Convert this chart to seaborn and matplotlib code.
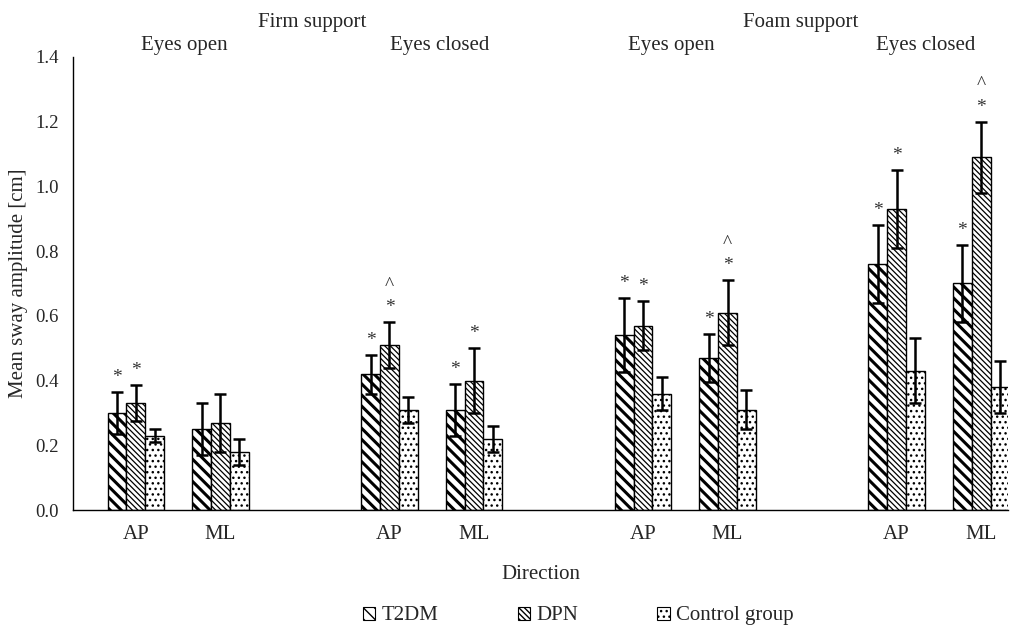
import matplotlib
matplotlib.use("Agg")
import matplotlib.pyplot as plt
import matplotlib.transforms as mtrans
from matplotlib.patches import Patch
import seaborn as sns
import pandas as pd
import numpy as np

# category slots (gaps between test conditions)
directions = ["AP", "ML", "AP", "ML", "AP", "ML", "AP", "ML"]
slots = [0, 1, 3, 4, 6, 7, 9, 10]
groups = ["T2DM", "DPN", "Control group"]

t2dm = [0.30, 0.25, 0.42, 0.31, 0.54, 0.47, 0.76, 0.70]
t2dm_sd = [0.065, 0.08, 0.06, 0.08, 0.115, 0.075, 0.12, 0.12]
dpn = [0.33, 0.27, 0.51, 0.40, 0.57, 0.61, 0.93, 1.09]
dpn_sd = [0.055, 0.09, 0.07, 0.10, 0.075, 0.10, 0.12, 0.11]
ctrl = [0.23, 0.18, 0.31, 0.22, 0.36, 0.31, 0.43, 0.38]
ctrl_sd = [0.02, 0.04, 0.04, 0.04, 0.05, 0.06, 0.10, 0.08]

# significance marks: * vs control, ^ vs T2DM
t2dm_star = [1, 0, 1, 1, 1, 1, 1, 1]
dpn_star = [1, 0, 1, 1, 1, 1, 1, 1]
dpn_caret = [0, 0, 1, 0, 0, 1, 0, 1]

conditions = ["Eyes open", "Eyes closed", "Eyes open", "Eyes closed"]
condition_x = [0.57, 3.59, 6.33, 9.35]
supports = ["Firm support", "Foam support"]
support_x = [2.09, 7.86]

df = pd.DataFrame({
    "slot": slots * 3,
    "Direction": directions * 3,
    "Group": np.repeat(groups, len(slots)),
    "amp": t2dm + dpn + ctrl,
})
sds = [t2dm_sd, dpn_sd, ctrl_sd]

sns.set_style("white")
plt.rcParams["font.family"] = ["Liberation Serif", "DejaVu Serif"]
plt.rcParams["font.size"] = 15

fig = plt.figure(figsize=(10.11, 6.26), dpi=100)
ax = fig.add_axes([0.0722, 0.1853, 0.925, 0.7237])

sns.barplot(data=df, x="slot", y="amp", hue="Group", hue_order=groups,
            native_scale=True, palette=["white"] * 3, width=0.67, gap=0,
            edgecolor="black", linewidth=1, errorbar=None, legend=False, ax=ax)

styles = [("\\" * 3, 2.2), ("\\" * 6, 0.9), ("...", 1.0)]
centers = []
for cont, (hatch, hlw) in zip(ax.containers, styles):
    xs = []
    for bar in cont:
        bar.set_hatch(hatch)
        if hasattr(bar, "set_hatch_linewidth"):
            bar.set_hatch_linewidth(hlw)
        xs.append(bar.get_x() + bar.get_width() / 2)
    centers.append(xs)

for xs, vals, sd in zip(centers, [t2dm, dpn, ctrl], sds):
    ax.errorbar(xs, vals, yerr=sd, fmt="none", ecolor="black",
                elinewidth=1.8, capsize=4.5, capthick=1.8, zorder=5)

star_kw = dict(ha="center", va="center", fontsize=14, color="#333333")
for i in range(len(slots)):
    if t2dm_star[i]:
        ax.text(centers[0][i], t2dm[i] + t2dm_sd[i] + 0.045, "*", **star_kw)
    if dpn_star[i]:
        top = dpn[i] + dpn_sd[i] + 0.045
        ax.text(centers[1][i], top, "*", **star_kw)
        if dpn_caret[i]:
            ax.text(centers[1][i], top + 0.07, "^", **star_kw)

ax.set_xlim(-0.744, 10.32)
ax.set_ylim(0, 1.4)
ax.set_yticks(np.arange(0, 1.41, 0.2))
ax.set_yticklabels([f"{v:.1f}" for v in np.arange(0, 1.41, 0.2)], fontsize=13.5)
ax.set_xticks(slots)
ax.set_xticklabels(directions, fontsize=15)
ax.tick_params(axis="x", length=0, pad=11)
ax.tick_params(axis="y", length=4, width=1, direction="out", color="black", pad=6)
ax.set_xlabel("")
ax.set_ylabel("")
sns.despine(ax=ax)
for s in ["left", "bottom"]:
    ax.spines[s].set_color("black")
    ax.spines[s].set_linewidth(1)

tr = mtrans.blended_transform_factory(ax.transData, fig.transFigure)
for lab, x in zip(conditions, condition_x):
    ax.text(x, 0.928, lab, transform=tr, ha="center", va="center")
for lab, x in zip(supports, support_x):
    ax.text(x, 0.964, lab, transform=tr, ha="center", va="center")

fig.text(0.018, 0.548, "Mean sway amplitude [cm]", rotation=90,
         ha="center", va="center")
fig.text(0.535, 0.083, "Direction", ha="center", va="center")

handles = []
for g, (hatch, hlw) in zip(groups, styles):
    p = Patch(facecolor="white", edgecolor="black", hatch=hatch, linewidth=0.8, label=g)
    if hasattr(p, "set_hatch_linewidth"):
        p.set_hatch_linewidth(hlw)
    handles.append(p)
fig.legend(handles=handles, loc="center", bbox_to_anchor=(0.572, 0.016), ncol=3,
           frameon=False, handlelength=0.6, handleheight=0.6, handletextpad=0.3,
           columnspacing=3.8)

fig.savefig("out.png", dpi=100)
